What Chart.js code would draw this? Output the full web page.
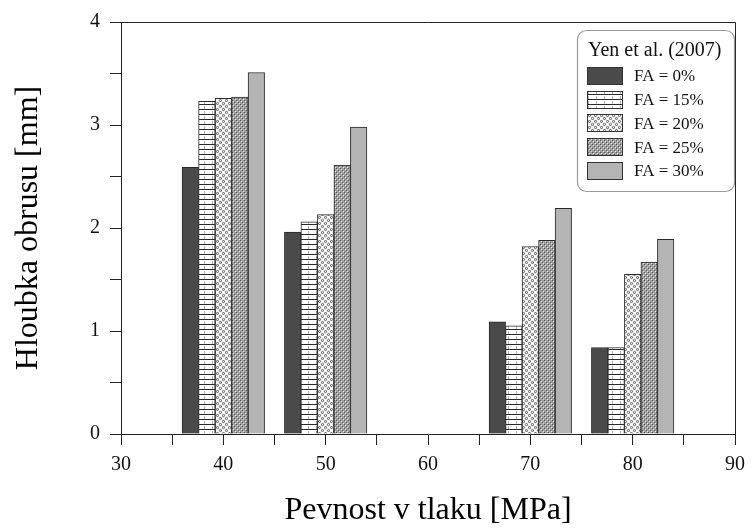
<!DOCTYPE html>
<html><head><meta charset="utf-8">
<script src="https://cdn.jsdelivr.net/npm/chart.js@4"></script>
<style>html,body{margin:0;padding:0;background:#fff}#wrap{width:753px;height:530px;position:relative}</style>
</head><body><div id="wrap"><canvas id="c" width="753" height="530"></canvas></div>
<script>
// ---- data ----
const strengths = [40, 50, 70, 80];
const fa0  = [2.59, 1.96, 1.09, 0.84];
const fa15 = [3.23, 2.06, 1.05, 0.84];
const fa20 = [3.26, 2.13, 1.82, 1.55];
const fa25 = [3.27, 2.61, 1.88, 1.67];
const fa30 = [3.51, 2.98, 2.19, 1.89];
const seriesLabels = ['FA = 0%', 'FA = 15%', 'FA = 20%', 'FA = 25%', 'FA = 30%'];
const legendTitle = 'Yen et al. (2007)';
const xTitle = 'Pevnost v tlaku [MPa]';
const yTitle = 'Hloubka obrusu [mm]';
const xTickLabels = [30, 40, 50, 60, 70, 80, 90];
const yTickLabels = [0, 1, 2, 3, 4];

// ---- fills ----
function makePattern(w, h, draw) {
  const c = document.createElement('canvas');
  c.width = w; c.height = h;
  const g = c.getContext('2d');
  draw(g);
  return document.createElement('canvas').getContext('2d').createPattern(c, 'repeat');
}
const fill0 = '#4a4a4a';
const fill15 = makePattern(8, 5, g => {
  g.fillStyle = '#fff'; g.fillRect(0, 0, 8, 5);
  g.fillStyle = '#2a2a2a'; g.fillRect(0, 4, 8, 1);
  g.fillStyle = '#b0b0b0'; g.fillRect(4, 1, 1, 3);
});
const fill20 = makePattern(6, 6, g => {
  g.fillStyle = '#fff'; g.fillRect(0, 0, 6, 6);
  g.strokeStyle = '#444'; g.lineWidth = 0.9;
  g.beginPath(); g.arc(1.5, 1.5, 1.1, 0, Math.PI * 2); g.stroke();
  g.beginPath(); g.arc(4.5, 4.5, 1.1, 0, Math.PI * 2); g.stroke();
});
const fill25 = makePattern(4, 4, g => {
  g.fillStyle = '#a0a0a0'; g.fillRect(0, 0, 4, 4);
  g.fillStyle = '#e6e6e6'; g.fillRect(1, 1, 1, 1); g.fillRect(3, 3, 1, 1);
  g.fillStyle = '#555'; g.fillRect(0, 0, 1, 1); g.fillRect(2, 2, 1, 1);
});
const fill30 = '#b4b4b4';
const fills = [fill0, fill15, fill20, fill25, fill30];
const seriesValues = [fa0, fa15, fa20, fa25, fa30];

const SERIF = "'Liberation Serif', 'Times New Roman', serif";

const framePlugin = {
  id: 'frame',
  afterDraw(chart) {
    const { ctx, chartArea: a } = chart;
    ctx.save();
    ctx.strokeStyle = '#222'; ctx.lineWidth = 1;
    ctx.beginPath();
    ctx.moveTo(a.left, a.top + 0.5); ctx.lineTo(a.right + 0.5, a.top + 0.5);
    ctx.lineTo(a.right + 0.5, a.bottom);
    ctx.stroke();
    ctx.restore();
  }
};

const legendPlugin = {
  id: 'boxLegend',
  afterDraw(chart) {
    const ctx = chart.ctx;
    ctx.save();
    ctx.strokeStyle = '#9a9a9a'; ctx.lineWidth = 1.2;
    ctx.beginPath();
    ctx.roundRect(577.5, 30.5, 157, 161, 9);
    ctx.fillStyle = '#fff'; ctx.fill(); ctx.stroke();
    ctx.fillStyle = '#111';
    ctx.textAlign = 'left'; ctx.textBaseline = 'middle';
    ctx.font = '20px ' + SERIF;
    ctx.fillText(legendTitle, 588, 51);
    ctx.font = '17px ' + SERIF;
    chart.data.datasets.forEach((ds, i) => {
      const yc = 76 + i * 23.7;
      ctx.fillStyle = ds.backgroundColor;
      ctx.fillRect(587, Math.round(yc - 9), 36, 18);
      ctx.strokeStyle = '#333'; ctx.lineWidth = 1;
      ctx.strokeRect(587.5, Math.round(yc - 9) + 0.5, 35, 17);
      ctx.fillStyle = '#111';
      ctx.fillText(ds.label, 634, yc + 1);
    });
    ctx.restore();
  }
};

new Chart(document.getElementById('c'), {
  type: 'bar',
  data: {
    datasets: seriesValues.map((vals, i) => ({
      label: seriesLabels[i],
      data: strengths.map((s, j) => ({ x: s, y: vals[j] })),
      backgroundColor: fills[i],
      borderColor: '#2a2a2a',
      borderWidth: 1,
      barThickness: 16.5
    }))
  },
  options: {
    responsive: false,
    animation: false,
    layout: { padding: { top: 22, right: 14, left: 0, bottom: 0 } },
    plugins: { legend: { display: false }, tooltip: { enabled: false } },
    scales: {
      x: {
        type: 'linear', min: 30, max: 90, offset: false,
        ticks: {
          stepSize: 5, autoSkip: false, maxRotation: 0, padding: 8, color: '#111',
          font: { family: SERIF, size: 20 },
          callback: v => xTickLabels.includes(v) ? String(v) : ''
        },
        grid: { offset: false, drawOnChartArea: false, drawTicks: true, tickLength: 11, color: '#222' },
        border: { display: true, color: '#222', width: 1 },
        title: { display: true, text: xTitle, color: '#000', font: { family: SERIF, size: 32 }, padding: { top: 0, bottom: 0 } },
        afterFit: s => { s.height = 96; }
      },
      y: {
        type: 'linear', min: 0, max: 4,
        ticks: {
          stepSize: 0.5, padding: 10, color: '#111',
          font: { family: SERIF, size: 20 },
          callback: v => yTickLabels.includes(v) ? String(v) : ''
        },
        grid: { drawOnChartArea: false, drawTicks: true, tickLength: 11, color: '#222' },
        border: { display: true, color: '#222', width: 1 },
        title: { display: true, text: yTitle, color: '#000', font: { family: SERIF, size: 32 }, padding: { top: 9, bottom: 0 } },
        afterFit: s => { s.width = 121; }
      }
    }
  },
  plugins: [framePlugin, legendPlugin]
});
</script>
</body></html>
